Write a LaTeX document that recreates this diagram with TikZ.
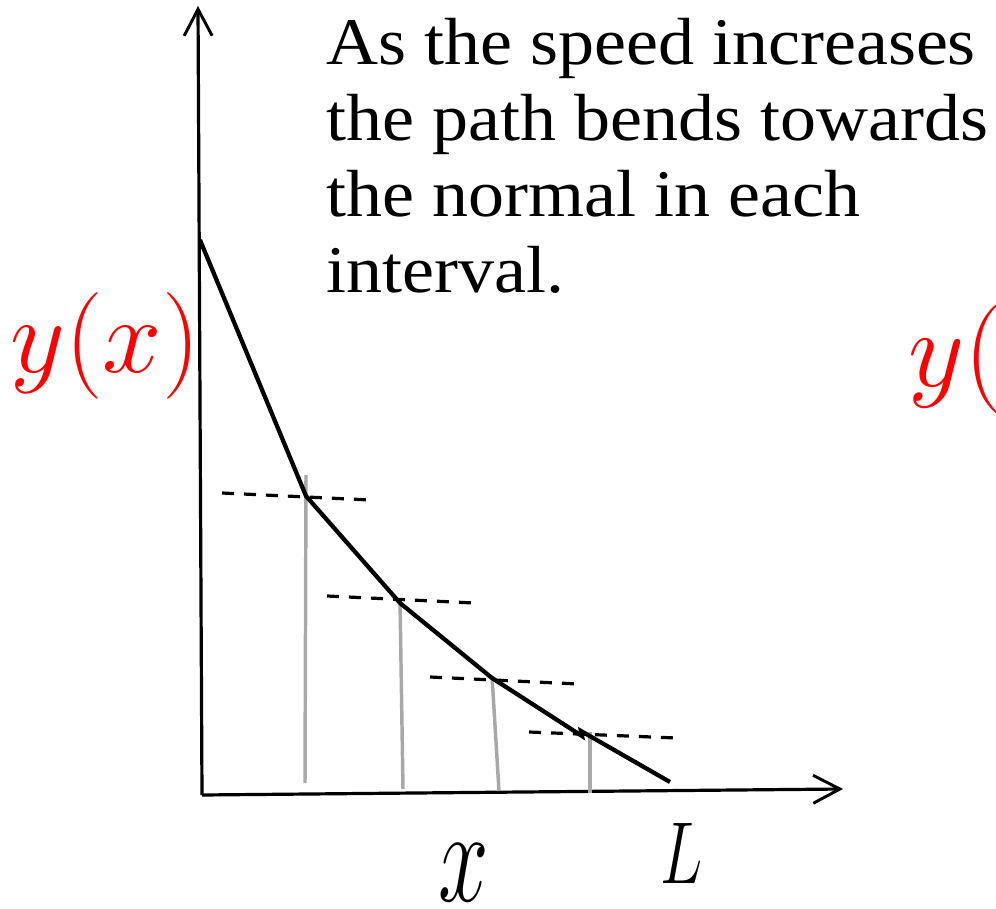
\RequirePackage{fix-cm}
\documentclass[tikz,border=0pt]{standalone}
\usepackage{fontspec}
\setmainfont[FakeStretch=1.08]{Liberation Serif}
\usetikzlibrary{arrows.meta}
\begin{document}
\begin{tikzpicture}[x=0.75pt,y=-0.75pt,
  axis/.style={line width=2.4pt,-{Straight Barb[length=20pt,width=21pt,line width=2.2pt]}},
  curve/.style={line width=3.2pt,line join=miter},
  normal/.style={line width=2.4pt,dash pattern=on 9pt off 7.5pt},
  drop/.style={line width=2.6pt,color=black!34},
  body/.style={inner sep=0pt,anchor=base west,font=\fontsize{50}{56}\selectfont},
  lab/.style={inner sep=0pt,anchor=base west},
  redlab/.style={lab,text=red}]
\useasboundingbox (0,0) rectangle (996,909);
% axes
\coordinate (O) at (202,795);
\coordinate (Ytop) at (198,6);
\coordinate (Xend) at (843,789);
\draw[axis] (O) -- (Ytop);
\draw[axis] (O) -- (Xend);
% drop lines
\coordinate (g1a) at (306,475); \coordinate (g1b) at (305,783);
\coordinate (g2a) at (400,600); \coordinate (g2b) at (403,789);
\coordinate (g3a) at (492,676); \coordinate (g3b) at (499,791);
\coordinate (g4a) at (590,732); \coordinate (g4b) at (590,793);
\draw[drop] (g1a) -- (g1b);
\draw[drop] (g2a) -- (g2b);
\draw[drop] (g3a) -- (g3b);
\draw[drop] (g4a) -- (g4b);
% normals
\coordinate (n1a) at (222,493); \coordinate (n1b) at (370,500);
\coordinate (n2a) at (327,596); \coordinate (n2b) at (474,603);
\coordinate (n3a) at (430,677); \coordinate (n3b) at (578,684);
\coordinate (n4a) at (529,732); \coordinate (n4b) at (676,738);
\draw[normal] (n1a) -- (n1b);
\draw[normal] (n2a) -- (n2b);
\draw[normal] (n3a) -- (n3b);
\draw[normal] (n4a) -- (n4b);
% path
\coordinate (p0) at (200,240);
\coordinate (p1) at (306,496);
\coordinate (p2) at (400,603);
\coordinate (p3) at (492,678);
\coordinate (p4) at (582,736);
\coordinate (p5) at (581,731);
\coordinate (p6) at (670,782);
\draw[curve] (p0) -- (p1) -- (p2) -- (p3) -- (p4) -- (p5) -- (p6);
% text
\node[body] (t1) at (326,65) {As the speed increases};
\node[body] (t2) at (326,141) {the path bends towards};
\node[body] (t3) at (326,217) {the normal in each};
\node[body] (t4) at (326,293) {interval.};
% labels
\node[redlab] (yx) at (10,373) {\fontsize{80}{84}\selectfont$y(x)$};
\node[redlab] (yx2) at (908,386) {\fontsize{82}{86}\selectfont$y($};
\node[lab] (xl) at (438,901) {\fontsize{100}{100}\selectfont\scalebox{0.68}[1]{$x$}};
\node[lab] (Ll) at (660,883) {\fontsize{66}{66}\selectfont\scalebox{0.72}[1]{$L$}};
\end{tikzpicture}
\end{document}
